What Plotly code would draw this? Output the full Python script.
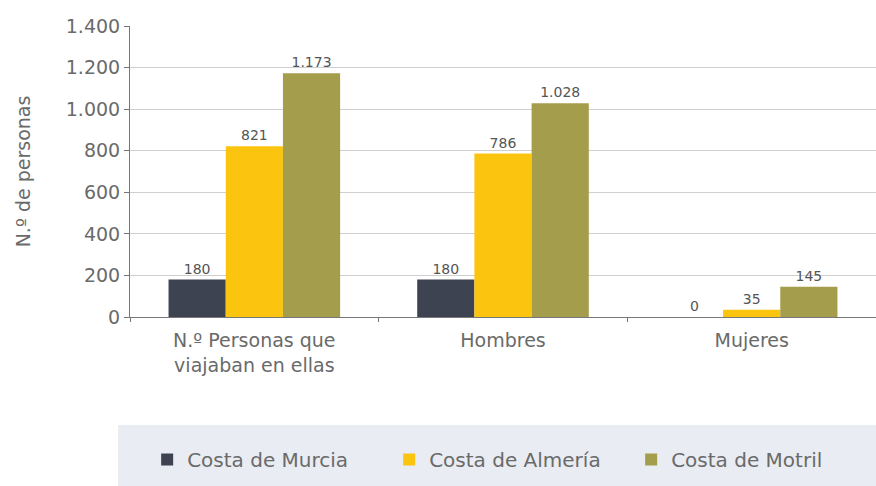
import plotly.graph_objects as go

categories = ["N.º Personas que<br>viajaban en ellas", "Hombres", "Mujeres"]
series_names = ["Costa de Murcia", "Costa de Almería", "Costa de Motril"]
murcia = [180, 180, 0]
almeria = [821, 786, 35]
motril = [1173, 1028, 145]
colors = ["#3d4350", "#fbc50f", "#a49d4c"]
y_ticks = [0, 200, 400, 600, 800, 1000, 1200, 1400]

font_family = "DejaVu Sans"
text_color = "#6a6a6a"

fig = go.Figure()
for name, vals, col in zip(series_names, [murcia, almeria, motril], colors):
    fig.add_trace(go.Bar(
        x=categories, y=vals, name=name,
        marker=dict(color=col, line=dict(width=0)),
        text=vals, texttemplate="%{y:,}", textposition="outside",
        textfont=dict(family=font_family, size=14, color="#555555"),
        cliponaxis=False,
    ))

fig.update_layout(
    width=876, height=486,
    margin=dict(l=130, r=0, t=26, b=169, autoexpand=False),
    paper_bgcolor="white", plot_bgcolor="white",
    separators=",.",
    barmode="group", bargap=0.31, bargroupgap=0,
    font=dict(family=font_family, color=text_color, size=19),
    showlegend=True,
    legend=dict(
        orientation="h", x=0.023, xanchor="left", y=-0.49, yanchor="middle",
        bgcolor="rgba(0,0,0,0)", borderwidth=0,
        entrywidth=197, entrywidthmode="pixels",
        font=dict(family=font_family, size=20, color=text_color),
        traceorder="normal",
    ),
    shapes=[dict(
        type="rect", xref="paper", yref="paper",
        x0=-0.016, x1=1.0, y0=-0.581, y1=-0.371,
        fillcolor="#e9ecf2", line=dict(width=0), layer="below",
    )],
)

fig.update_xaxes(
    showline=True, linecolor="#777777", linewidth=1,
    ticks="outside", tickson="boundaries", ticklen=4, tickcolor="#777777",
    tickfont=dict(family=font_family, size=19, color=text_color),
    ticklabelstandoff=6,
    showgrid=False,
)
fig.update_yaxes(
    range=[0, 1400], tickvals=y_ticks, separatethousands=True,
    tickformat=",d",
    showline=True, linecolor="#777777", linewidth=1,
    ticks="outside", ticklen=5, tickcolor="#777777",
    tickfont=dict(family=font_family, size=19, color=text_color),
    showgrid=True, gridcolor="#cfcfcf", gridwidth=1,
    zeroline=False,
    title=dict(text="N.º de personas", font=dict(family=font_family, size=19, color=text_color), standoff=30),
)

fig.write_html("out.html", config={"displayModeBar": False},
               post_script="document.body.style.margin='0';")
